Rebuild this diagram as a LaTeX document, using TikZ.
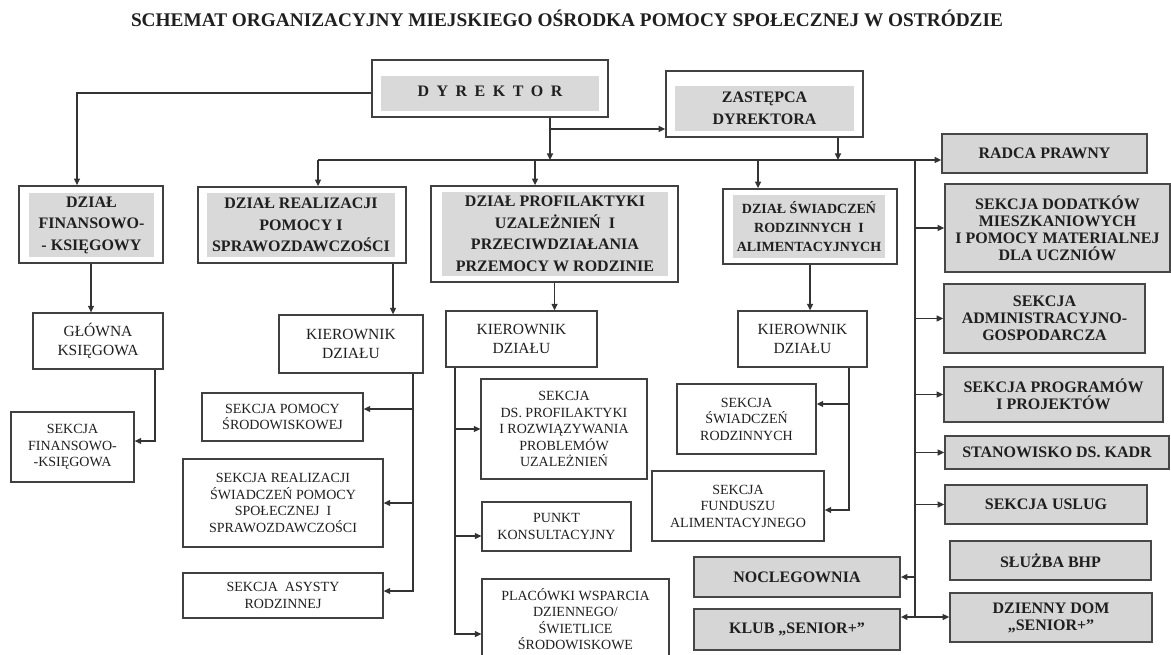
\documentclass[tikz,border=0pt]{standalone}
\usepackage{fontspec}
\setmainfont{Liberation Serif}
\usetikzlibrary{arrows.meta}
\newcommand\bx[6]{\node[#1,minimum width=#4pt,minimum height=#5pt] (#2) at (#3) {#6};}
\begin{document}
\begin{tikzpicture}[x=1pt,y=-1pt,
  every node/.style={inner sep=0pt, align=center, text=black!88},
  ln/.style={draw=black!80, line width=1.3pt},
  arr/.style={ln, -{Triangle[length=6.5pt,width=6pt]}},
  outerbox/.style={draw=black!75, line width=1.8pt},
  innerbox/.style={fill=black!15, font=\fontsize{16}{21.5}\selectfont\bfseries},
  graybox/.style={draw=black!72, line width=1.8pt, fill=black!16, font=\fontsize{16}{17}\selectfont\bfseries},
  whitebox/.style={draw=black!75, line width=1.3pt, font=\fontsize{14}{16.5}\selectfont},
  kierbox/.style={whitebox, font=\fontsize{15.5}{18.5}\selectfont},
]
\fill[white] (0,0) rectangle (1171,655);
\useasboundingbox (0,0) rectangle (1171,655);
\clip (0,0) rectangle (1171,655);

% title
\node (title) at (567,18) {\fontsize{19.3}{21}\selectfont\bfseries SCHEMAT ORGANIZACYJNY MIEJSKIEGO OŚRODKA POMOCY SPOŁECZNEJ W OSTRÓDZIE};

% double boxes
\bx{outerbox}{dyr}{490,88.5}{236}{57}{}
\bx{innerbox}{dyrin}{490,93.5}{218}{35}{\raisebox{5pt}{D\hspace{7.5pt}Y\hspace{7.5pt}R\hspace{7.5pt}E\hspace{7.5pt}K\hspace{7.5pt}T\hspace{7.5pt}O\hspace{7.5pt}R}}
\bx{outerbox}{zas}{764.5,104}{197}{66}{}
\bx{innerbox}{zasin}{764.5,108.5}{179}{45}{ZASTĘPCA\\DYREKTORA}
\bx{outerbox}{fin}{91,224.5}{144}{77}{}
\bx{innerbox}{finin}{91.5,225}{125}{64}{DZIAŁ\\FINANSOWO-\\- KSIĘGOWY}
\bx{outerbox}{real}{302,225}{208}{76}{}
\bx{innerbox}{realin}{301,225}{188}{64}{DZIAŁ REALIZACJI\\POMOCY I\\SPRAWOZDAWCZOŚCI}
\bx{outerbox}{prof}{554.5,234}{247}{96}{}
\bx{innerbox}{profin}{555,234}{226}{84}{DZIAŁ PROFILAKTYKI\\UZALEŻNIEŃ\ \ I\\PRZECIWDZIAŁANIA\\PRZEMOCY W RODZINIE}
\bx{outerbox}{swi}{810,226.5}{174}{75}{}
\bx{innerbox,font=\fontsize{14}{19}\selectfont\bfseries}{swiin}{809,226.5}{152}{63}{DZIAŁ ŚWIADCZEŃ\\RODZINNYCH\ \ I\\ALIMENTACYJNYCH}

% right column
\bx{graybox}{radca}{1044.5,153.5}{205}{39}{RADCA PRAWNY}
\bx{graybox}{dodat}{1057.5,228}{225}{88}{SEKCJA DODATKÓW\\MIESZKANIOWYCH\\I POMOCY MATERIALNEJ\\DLA UCZNIÓW}
\bx{graybox}{admin}{1044.5,318.5}{201}{69}{SEKCJA\\ADMINISTRACYJNO-\\GOSPODARCZA}
\bx{graybox}{progr}{1053.5,394.5}{219}{55}{SEKCJA PROGRAMÓW\\I PROJEKTÓW}
\bx{graybox}{kadr}{1057,452.5}{224}{33}{STANOWISKO DS. KADR}
\bx{graybox}{uslug}{1046,504.5}{202}{39}{SEKCJA USLUG}
\bx{graybox}{bhp}{1050.5,560.5}{201}{39}{SŁUŻBA BHP}
\bx{graybox}{dzienny}{1051,617.5}{202}{49}{DZIENNY DOM\\„SENIOR+”}
\bx{graybox}{nocleg}{797,577}{206}{40}{NOCLEGOWNIA}
\bx{graybox}{klub}{797,629.5}{206}{41}{KLUB „SENIOR+”}

% white boxes
\bx{kierbox}{glowna}{98,341}{130}{56}{GŁÓWNA\\KSIĘGOWA}
\bx{whitebox}{sfin}{72.5,447}{123}{70}{SEKCJA\\FINANSOWO-\\-KSIĘGOWA}
\bx{kierbox}{kier1}{351,344}{144}{58}{KIEROWNIK\\DZIAŁU}
\bx{whitebox}{spom}{282.5,417}{161}{48}{SEKCJA POMOCY\\ŚRODOWISKOWEJ}
\bx{whitebox}{sreal}{283,503}{200}{88}{SEKCJA REALIZACJI\\ŚWIADCZEŃ POMOCY\\SPOŁECZNEJ\ \ I\\SPRAWOZDAWCZOŚCI}
\bx{whitebox}{sasys}{283,595.5}{200}{45}{SEKCJA\ \ ASYSTY\\RODZINNEJ}
\bx{kierbox}{kier2}{521.5,339}{151}{56}{KIEROWNIK\\DZIAŁU}
\bx{whitebox}{sprof}{564,429}{166}{100}{SEKCJA\\DS. PROFILAKTYKI\\I ROZWIĄZYWANIA\\PROBLEMÓW\\UZALEŻNIEŃ}
\bx{whitebox}{punkt}{556.5,526.5}{149}{49}{PUNKT\\KONSULTACYJNY}
\bx{whitebox}{placow}{575.5,619}{187}{80}{PLACÓWKI WSPARCIA\\DZIENNEGO/\\ŚWIETLICE\\ŚRODOWISKOWE}
\bx{kierbox}{kier3}{802.5,339}{129}{56}{KIEROWNIK\\DZIAŁU}
\bx{whitebox}{sswi}{746.5,419}{139}{70}{SEKCJA\\ŚWIADCZEŃ\\RODZINNYCH}
\bx{whitebox}{sfund}{738,506}{172}{70}{SEKCJA\\FUNDUSZU\\ALIMENTACYJNEGO}

% helper coordinates
\coordinate (dsplit) at ([xshift=60pt]dyr.south);
\coordinate (zsplit) at ([xshift=73.5pt]zas.south);
\coordinate (busl) at (318,160);
\coordinate (busr) at (915,160);
\coordinate (vrb) at (915,617);
\coordinate (profin-pt) at ([xshift=-19.5pt]prof.north);
\coordinate (swiin-pt) at ([xshift=-52pt]swi.north);
\coordinate (realout) at ([xshift=91pt]real.south);
\coordinate (k1) at ([xshift=62pt]kier1.south);
\coordinate (spom-pt) at ([yshift=8pt]spom.east);
\coordinate (k2) at ([xshift=-66.5pt]kier2.south);
\coordinate (punkt-pt) at ([yshift=-9.5pt]punkt.west);
\coordinate (k3) at ([xshift=46.5pt]kier3.south);
\coordinate (sswi-pt) at ([yshift=15pt]sswi.east);

% connectors top
\draw[arr] ([yshift=-4.5pt]dyr.west) -| ([xshift=-14pt]fin.north);
\draw[arr] (dsplit) |- ([yshift=-25pt]zas.west);
\draw[arr] (dsplit) -- (dsplit |- busl);
\draw[arr] (zsplit) -- (zsplit |- busl);
\draw[ln] (busl) -- (busr);
\draw[arr] (busr) -- (busr -| radca.west);
\draw[arr] (busl) -- (busl |- real.north);
\draw[arr] (busl -| profin-pt) -- (profin-pt);
\draw[arr] (busl -| swiin-pt) -- (swiin-pt);

% right vertical
\draw[ln] (busr) -- (vrb);
\draw[arr] (busr |- dodat.west) -- (dodat.west);
\draw[arr] (busr |- admin.west) -- (admin.west);
\draw[arr] (busr |- progr.west) -- (progr.west);
\draw[arr] (busr |- kadr.west) -- (kadr.west);
\draw[arr] (busr |- uslug.west) -- (uslug.west);
\draw[arr] (busr |- nocleg.east) -- (nocleg.east);
\draw[arr] (vrb) -- (vrb -| dzienny.west);
\draw[arr] (vrb) -- (vrb -| klub.east);

% finance
\draw[arr] (fin.south) -- (fin.south |- glowna.north);
\draw[arr] ([xshift=57pt]glowna.south) |- ([yshift=6pt]sfin.east);

% realizacja
\draw[arr] (realout) -- (realout |- kier1.north);
\draw[arr] (k1) |- ([yshift=4.5pt]sasys.east);
\draw[arr] (k1 |- spom-pt) -- (spom-pt);
\draw[arr] (k1 |- sreal.east) -- (sreal.east);

% profilaktyka
\draw[arr] (prof.south) -- (prof.south |- kier2.north);
\draw[arr] (k2) |- ([yshift=-15pt]placow.west);
\draw[arr] (k2 |- sprof.west) -- (sprof.west);
\draw[arr] (k2 |- punkt-pt) -- (punkt-pt);

% swiadczenia
\draw[arr] (swi.south) -- (swi.south |- kier3.north);
\draw[arr] (k3) |- ([yshift=-4pt]sfund.east);
\draw[arr] (k3 |- sswi-pt) -- (sswi-pt);
\end{tikzpicture}
\end{document}
